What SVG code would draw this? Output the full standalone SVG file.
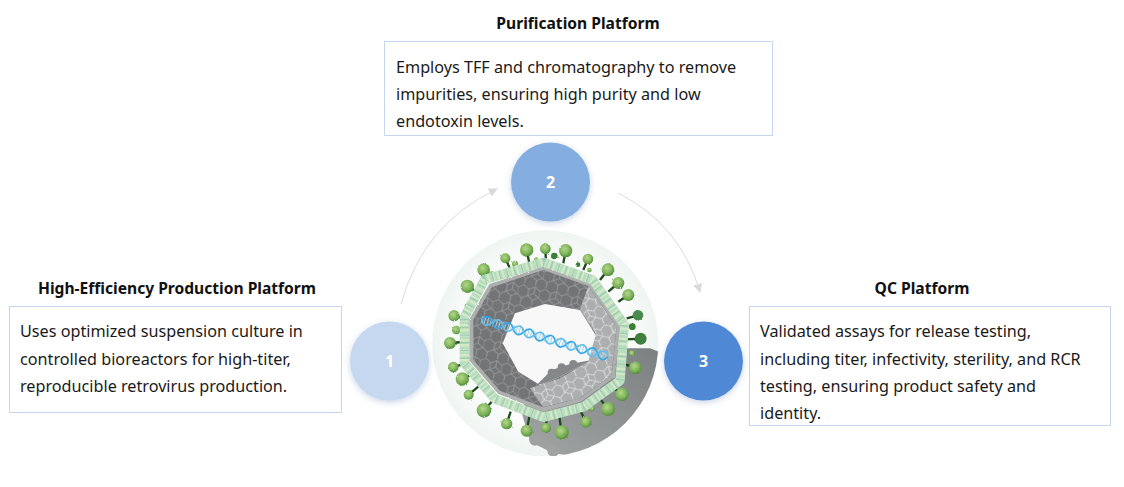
<svg xmlns="http://www.w3.org/2000/svg" width="1124" height="487" viewBox="0 0 1124 487">
<style>
.box{fill:#fff;stroke:#c5d6ee;stroke-width:1}
.t{font-family:"Noto Sans","Open Sans","DejaVu Sans",sans-serif;font-size:16.2px;fill:#1a1a1a}
.h{font-family:"Noto Sans","Open Sans","DejaVu Sans",sans-serif;font-size:15.6px;font-weight:700;fill:#111;text-anchor:middle}
.n{font-family:"Noto Sans","Open Sans","DejaVu Sans",sans-serif;font-size:16px;font-weight:700;fill:#fff;text-anchor:middle}
.arc{fill:none;stroke:#dcdcdc;stroke-width:1;marker-end:url(#ah)}
.stem{stroke:#1f4a1d;stroke-width:7;fill:none}
.ring{fill:none;stroke-linejoin:round}
</style>
<defs>
<marker id="ah" viewBox="0 0 10 10" refX="9" refY="5" markerWidth="9" markerHeight="9" markerUnits="userSpaceOnUse" orient="auto"><path d="M0 0L10 5L0 10z" fill="#d9d9d9"/></marker>
<filter id="sh" x="-30%" y="-30%" width="160%" height="160%"><feDropShadow dx="0" dy="2" stdDeviation="3" flood-color="#8aa0c8" flood-opacity=".45"/></filter>
<filter id="b2"><feGaussianBlur stdDeviation="2"/></filter>
<filter id="rough" x="-5%" y="-5%" width="110%" height="110%"><feTurbulence type="fractalNoise" baseFrequency=".25" numOctaves="2" seed="4" result="n"/><feDisplacementMap in="SourceGraphic" in2="n" scale="7"/></filter>
<radialGradient id="bg" cx=".5" cy=".5" r=".5"><stop offset=".72" stop-color="#fbfcfb"/><stop offset="1" stop-color="#eff5f2"/></radialGradient>
<radialGradient id="ball" cx=".42" cy=".38" r=".65"><stop offset="0" stop-color="#b6d68c"/><stop offset=".6" stop-color="#7fb45a"/><stop offset="1" stop-color="#4d8a3a"/></radialGradient>
<linearGradient id="shg" x1="1" y1="0" x2="0" y2="1"><stop offset="0" stop-color="#7b7f80"/><stop offset="1" stop-color="#a3a6a5"/></linearGradient>
<pattern id="hexD" width="66" height="60" patternUnits="userSpaceOnUse" patternTransform="rotate(12)"><rect width="66" height="60" fill="#727476"/><path d="M0 15L16 5L33 15L33 35L16 45L0 35zM33 35L50 25L66 35M33 15L50 5L66 15M50 25L50 5M16 45L16 60M50 45L66 35M33 35L50 45L50 60" fill="none" stroke="#a9abad" stroke-width="2"/></pattern>
<pattern id="hexL" width="66" height="60" patternUnits="userSpaceOnUse" patternTransform="rotate(-20)"><rect width="66" height="60" fill="#adaeaf"/><path d="M0 15L16 5L33 15L33 35L16 45L0 35zM33 35L50 25L66 35M33 15L50 5L66 15M50 25L50 5M16 45L16 60M50 45L66 35M33 35L50 45L50 60" fill="none" stroke="#e6e6e6" stroke-width="2.5"/></pattern>
<clipPath id="cc"><circle cx="376" cy="370" r="339"/></clipPath>
<clipPath id="inner"><path d="M370 150L505 198L590 320L575 465L480 535L370 562L240 512L160 420L160 300L215 202z"/></clipPath>
<clipPath id="hole"><path d="M375 252L480 270L527 345L505 425L420 470L360 495L295 455L248 370L285 280z"/></clipPath>
</defs>
<rect width="1124" height="487" fill="#fff"/>

<g id="virus" transform="translate(420 220) scale(.3333)">
<circle cx="376" cy="370" r="339" fill="url(#bg)"/>
<g clip-path="url(#cc)"><g fill="url(#shg)" filter="url(#b2)"><path d="M600 385L690 385L730 400L700 540L620 640L480 710L400 700L330 665L300 560z"/></g><g fill="#9fa2a1" filter="url(#b2)"><circle cx="400" cy="692" r="18"/><circle cx="345" cy="660" r="17"/></g></g>
<path class="stem" d="M320 90L328 130M376 86L378 125M437 92L430 130M504 117L490 150M564 149L540 180M595 189L565 215M625 225L595 245M654 286L620 295M662 356L620 358M646 443L610 432M606 523L570 495M564 567L535 530M498 606L480 570M425 637L418 590M378 624L380 590M320 632L328 590M260 611L272 575M192 571L220 540M146 524L175 500M127 477L165 458M100 441L140 430M90 369L130 366M102 287L140 298M142 199L180 225M191 149L220 180M256 115L272 150"/>
<g fill="url(#ball)" filter="url(#rough)">
<circle cx="320" cy="90" r="20"/><circle cx="376" cy="86" r="16"/><circle cx="437" cy="92" r="20"/><circle cx="504" cy="117" r="16"/><circle cx="564" cy="149" r="19"/><circle cx="595" cy="189" r="18"/><circle cx="625" cy="225" r="18"/><circle cx="654" cy="286" r="16" fill="#4c8a50"/><circle cx="662" cy="356" r="18" fill="#3f7f3f"/><circle cx="646" cy="443" r="19"/><circle cx="606" cy="523" r="20"/><circle cx="564" cy="567" r="21"/><circle cx="498" cy="606" r="17"/><circle cx="425" cy="637" r="21"/><circle cx="378" cy="624" r="15"/><circle cx="320" cy="632" r="18"/><circle cx="260" cy="611" r="17"/><circle cx="192" cy="571" r="22"/><circle cx="146" cy="524" r="15"/><circle cx="127" cy="477" r="20"/><circle cx="100" cy="441" r="16"/><circle cx="90" cy="369" r="18"/><circle cx="109" cy="330" r="13"/><circle cx="102" cy="287" r="17"/><circle cx="142" cy="199" r="20"/><circle cx="191" cy="149" r="19"/><circle cx="256" cy="115" r="15"/><circle cx="285" cy="131" r="9"/><circle cx="403" cy="108" r="10" fill="#3a7f35"/><circle cx="215" cy="163" r="9"/><circle cx="143" cy="258" r="9"/><circle cx="474" cy="134" r="7" fill="#3a7f35"/><circle cx="508" cy="150" r="7"/><circle cx="637" cy="320" r="10" fill="#3a7f35"/><circle cx="636" cy="400" r="9"/><circle cx="602" cy="470" r="9"/><circle cx="515" cy="565" r="9"/><circle cx="348" cy="118" r="6"/>
</g>
<path class="ring" d="M371 127L518 180L613 315L600 482L492 560L371 592L225 537L133 430L133 292L195 178z" stroke="#b8dcc0" stroke-width="28"/>
<path class="ring" d="M371 127L518 180L613 315L600 482L492 560L371 592L225 537L133 430L133 292L195 178z" stroke="#d3e8c6" stroke-width="26" stroke-dasharray="7 8"/>
<path class="ring" d="M371 127L518 180L613 315L600 482L492 560L371 592L225 537L133 430L133 292L195 178z" stroke="#9ccdb2" stroke-width="26" stroke-dasharray="4 19"/>
<path d="M370 140L510 192L600 320L585 470L482 545L370 575L235 522L148 422L148 298L208 192z" fill="#adaeae" filter="url(#rough)"/>
<path d="M370 150L505 198L590 320L575 465L480 535L370 562L240 512L160 420L160 300L215 202z" fill="url(#hexD)"/>
<g clip-path="url(#inner)">
<path d="M505 198L590 320L575 465L480 535L370 562L330 505L420 475L505 425L527 340L480 268z" fill="url(#hexL)"/>
</g>
<path d="M375 252L480 270L527 345L505 425L420 470L360 495L295 455L248 370L285 280z" fill="#f7f8f7"/>
<g clip-path="url(#hole)" fill="#85888a" filter="url(#b2)"><path d="M350 495L395 450L450 432L515 420L505 440L420 480z"/><circle cx="395" cy="458" r="12"/><circle cx="425" cy="442" r="12"/><circle cx="460" cy="432" r="12"/></g>
<g transform="translate(185 298) rotate(16.5)" fill="none">
<path d="M0 0H396" stroke="#9ad3ef" stroke-width="22" stroke-dasharray="3 6"/>
<path d="M0 0q16 -26 33 0t33 0t33 0t33 0t33 0t33 0t33 0t33 0t33 0t33 0t33 0t33 0" stroke="#38a6e6" stroke-width="5"/>
<path d="M0 0q16 26 33 0t33 0t33 0t33 0t33 0t33 0t33 0t33 0t33 0t33 0t33 0t33 0" stroke="#63bce9" stroke-width="5"/>
</g>
</g>

<g id="connectors">
<path class="arc" d="M401 304Q423 224 497 189"/>
<path class="arc" d="M618 193Q680 224 700 292"/>
</g>

<g id="node-1">
<text class="h" x="177" y="294">High-Efficiency Production Platform</text>
<rect class="box" x="9.5" y="306.5" width="332" height="106"/>
<text class="t" x="20" y="337">Uses optimized suspension culture in</text>
<text class="t" x="20" y="364.500">controlled bioreactors for high-titer,</text>
<text class="t" x="20" y="392">reproducible retrovirus production.</text>
<circle cx="389.5" cy="361" r="39.500" fill="#c6d7f0" filter="url(#sh)"/>
<text class="n" x="389.500" y="367">1</text>
</g>
<g id="node-2">
<text class="h" x="578" y="29">Purification Platform</text>
<rect class="box" x="384.5" y="41.5" width="388" height="94"/>
<text class="t" x="396" y="73">Employs TFF and chromatography to remove</text>
<text class="t" x="396" y="100">impurities, ensuring high purity and low</text>
<text class="t" x="396" y="127">endotoxin levels.</text>
<circle cx="550.5" cy="182" r="39.5" fill="#84aee0" filter="url(#sh)"/>
<text class="n" x="550.5" y="188">2</text>
</g>
<g id="node-3">
<text class="h" x="922" y="294">QC Platform</text>
<rect class="box" x="749.5" y="306.5" width="361" height="119"/>
<text class="t" x="760" y="337">Validated assays for release testing,</text>
<text class="t" x="760" y="364.500">including titer, infectivity, sterility, and RCR</text>
<text class="t" x="760" y="392">testing, ensuring product safety and</text>
<text class="t" x="760" y="419">identity.</text>
<circle cx="703.5" cy="361" r="39.5" fill="#5089d6" filter="url(#sh)"/>
<text class="n" x="703.5" y="367">3</text>
</g>
</svg>
